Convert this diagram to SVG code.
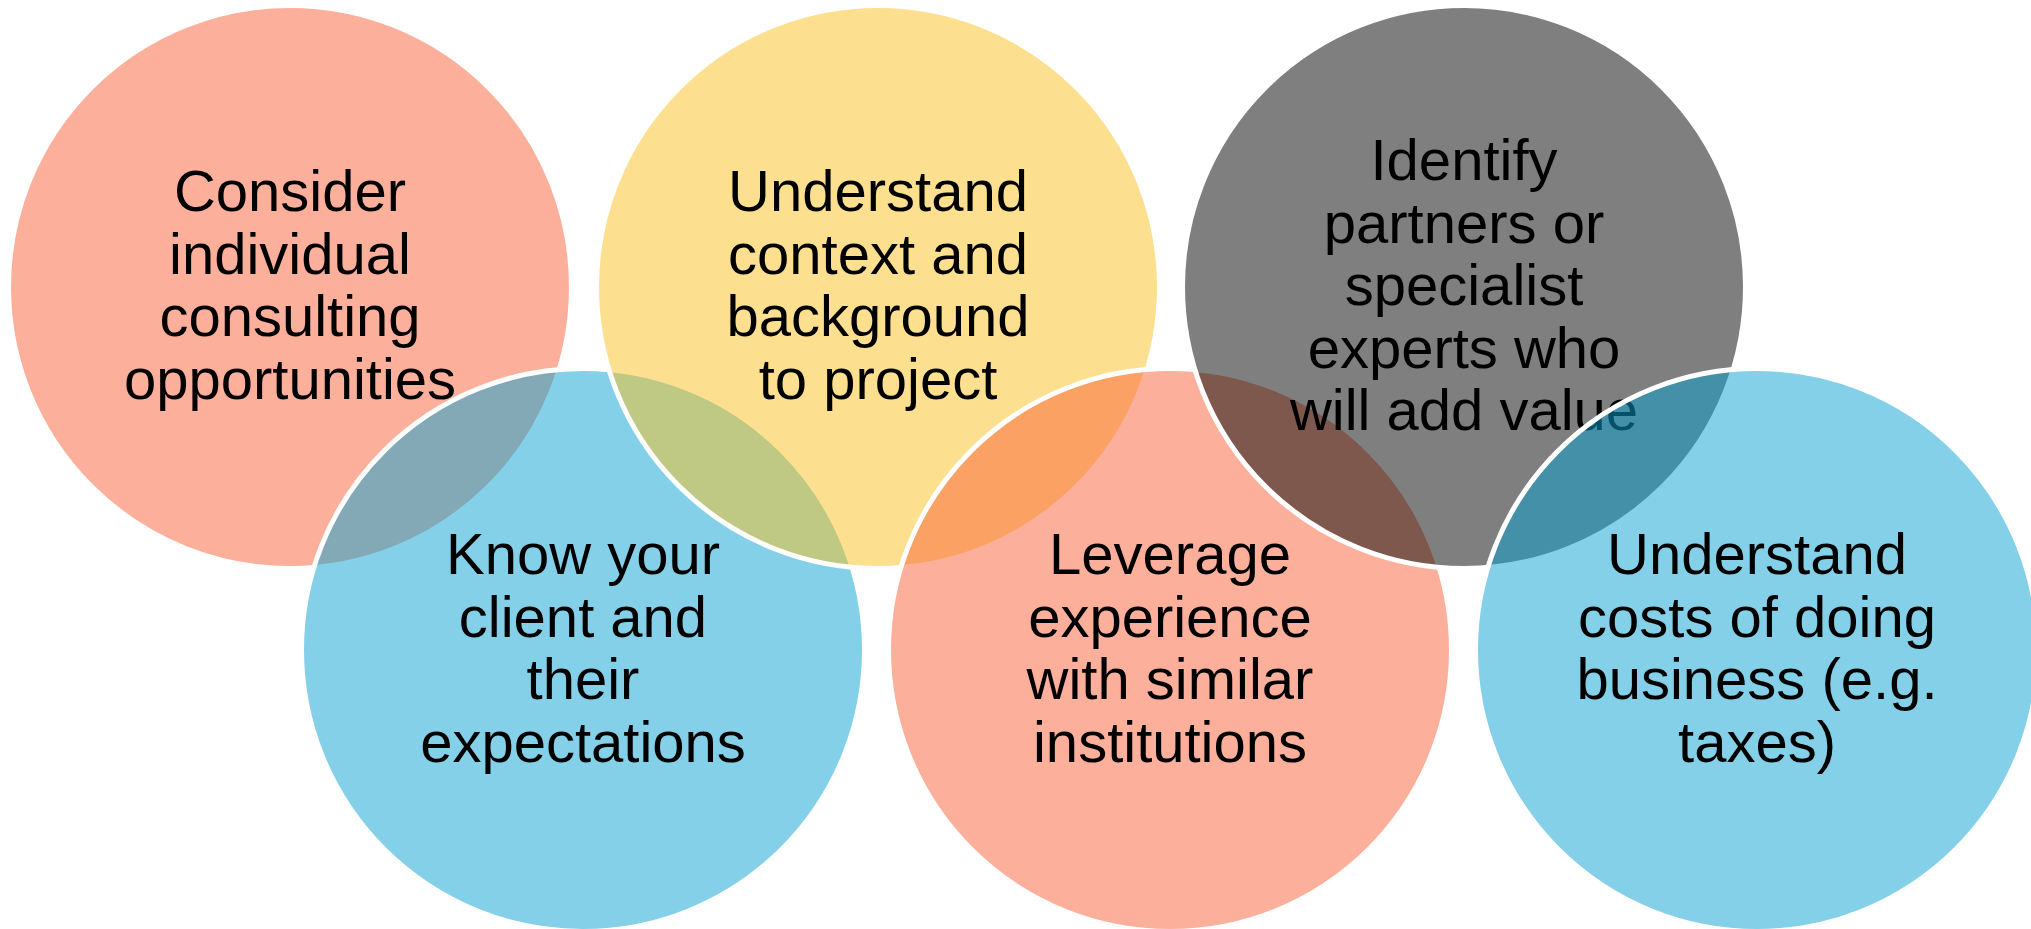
<svg xmlns="http://www.w3.org/2000/svg" width="2031" height="929" viewBox="0 0 2031 929">
<style>
.c{stroke:#ffffff;stroke-width:5;fill-opacity:0.5}
.salmon{fill:#F96237}
.blue{fill:#0AA2D2}
.yellow{fill:#F9C11F}
.gray{fill:#000000}
text{font-family:"Liberation Sans",Arial,sans-serif;font-size:58px;fill:#000000;text-anchor:middle}
</style>
<rect width="2031" height="929" fill="#ffffff"/>
<g id="connectors"></g>
<g id="node1">
<circle class="c salmon" cx="290" cy="287" r="281.5"/>
<text x="290"><tspan x="290" y="211">Consider</tspan><tspan x="290" y="273.5">individual</tspan><tspan x="290" y="336">consulting</tspan><tspan x="290" y="398.5">opportunities</tspan></text>
</g>
<g id="node2">
<circle class="c blue" cx="583" cy="650" r="281.5"/>
<text x="583"><tspan x="583" y="574">Know your</tspan><tspan x="583" y="636.5">client and</tspan><tspan x="583" y="699">their</tspan><tspan x="583" y="761.5">expectations</tspan></text>
</g>
<g id="node3">
<circle class="c yellow" cx="878" cy="287" r="281.5"/>
<text x="878"><tspan x="878" y="211">Understand</tspan><tspan x="878" y="273.5">context and</tspan><tspan x="878" y="336">background</tspan><tspan x="878" y="398.5">to project</tspan></text>
</g>
<g id="node4">
<circle class="c salmon" cx="1170" cy="650" r="281.5"/>
<text x="1170"><tspan x="1170" y="574">Leverage</tspan><tspan x="1170" y="636.5">experience</tspan><tspan x="1170" y="699">with similar</tspan><tspan x="1170" y="761.5">institutions</tspan></text>
</g>
<g id="node5">
<circle class="c gray" cx="1464" cy="287" r="281.5"/>
<text x="1464"><tspan x="1464" y="180">Identify</tspan><tspan x="1464" y="242.5">partners or</tspan><tspan x="1464" y="305">specialist</tspan><tspan x="1464" y="367.5">experts who</tspan><tspan x="1464" y="430">will add value</tspan></text>
</g>
<g id="node6">
<circle class="c blue" cx="1757" cy="650" r="281.5"/>
<text x="1757"><tspan x="1757" y="574">Understand</tspan><tspan x="1757" y="636.5">costs of doing</tspan><tspan x="1757" y="699">business (e.g.</tspan><tspan x="1757" y="761.5">taxes)</tspan></text>
</g>
</svg>
